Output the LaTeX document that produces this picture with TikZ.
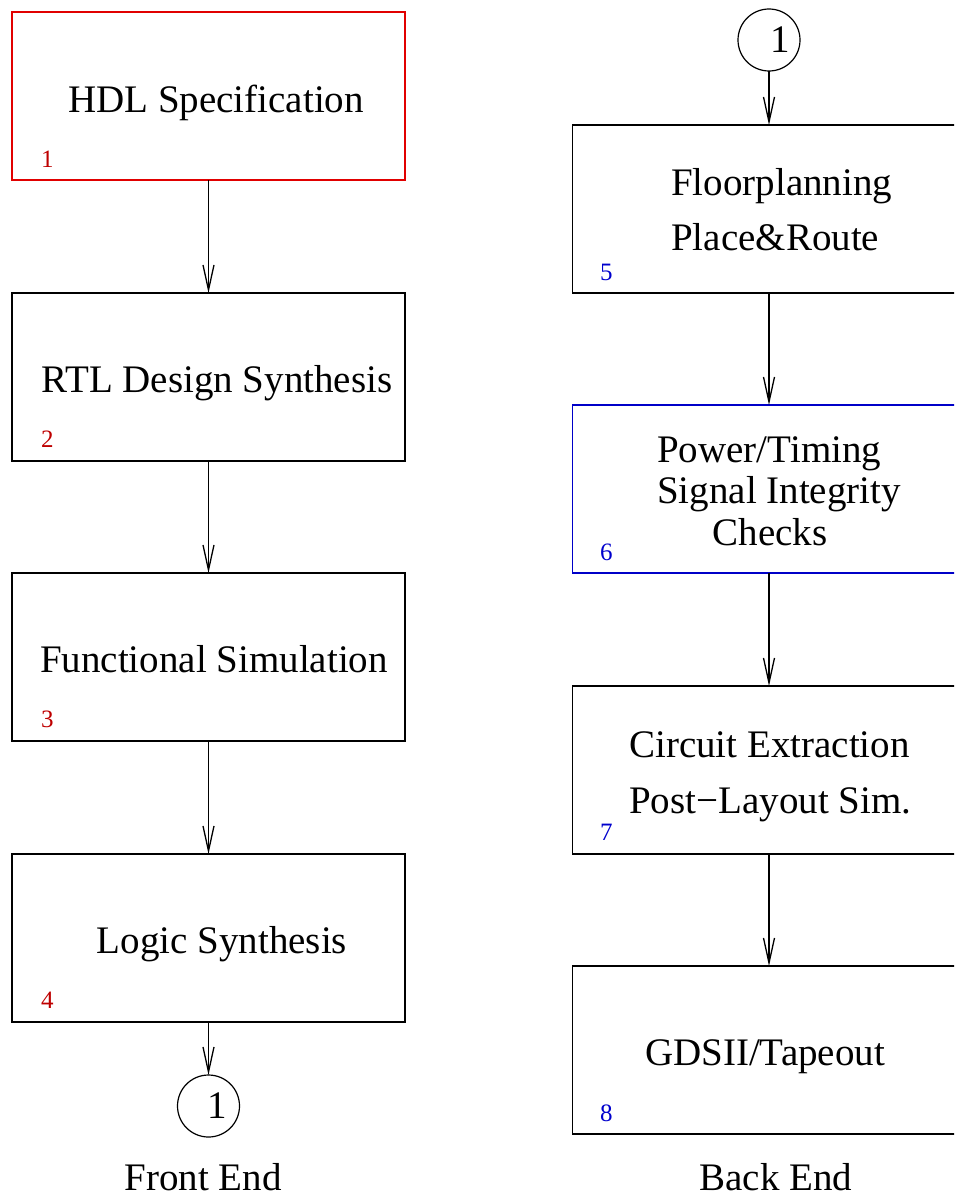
\documentclass[tikz,border=0pt]{standalone}
\usepackage{fontspec}
\setmainfont{Liberation Serif}
\usetikzlibrary{arrows.meta}
\definecolor{boxred}{RGB}{225,0,0}
\definecolor{numred}{RGB}{190,0,0}
\definecolor{boxblue}{RGB}{0,0,200}
\definecolor{numblue}{RGB}{0,0,205}
\tikzset{
  stepbox/.style={draw, line width=1.4pt, minimum width=393pt, minimum height=168pt, inner sep=0pt, outer sep=0pt},
  conn/.style={draw, circle, line width=1.2pt, minimum size=62pt, inner sep=0pt, outer sep=0pt, font=\fontsize{39}{46}\selectfont},
  arr/.style={line width=1.3pt, -{Straight Barb[length=25pt,width=11pt,line width=1.3pt]}},
  bigtxt/.style={inner sep=0pt, anchor=base, font=\fontsize{39}{46}\selectfont},
  bigtxtw/.style={inner sep=0pt, anchor=base west, font=\fontsize{39}{46}\selectfont},
  numtxt/.style={inner sep=0pt, anchor=base west, font=\fontsize{25}{30}\selectfont}
}
\begin{document}
\begin{tikzpicture}[x=1pt,y=-1pt]
\useasboundingbox (0,0) rectangle (954,1199);
\clip (0,0) rectangle (954,1199);
% left column
\node[stepbox, draw=boxred] (b1) at (208.5,96) {};
\node[stepbox] (b2) at (208.5,377) {};
\node[stepbox] (b3) at (208.5,657) {};
\node[stepbox] (b4) at (208.5,938) {};
\node[conn] (c1) at (208.5,1106) {\hspace*{18pt}1};
\node[bigtxt] (t1) at (216,112) {HDL Specification};
\node[bigtxt] (t2) at (217,392) {RTL Design Synthesis};
\node[bigtxt] (t3) at (214,672) {Functional Simulation};
\node[bigtxt] (t4) at (222,953) {Logic Synthesis};
\node[numtxt, text=numred] (n1) at (41,167) {1};
\node[numtxt, text=numred] (n2) at (41,447) {2};
\node[numtxt, text=numred] (n3) at (41,727) {3};
\node[numtxt, text=numred] (n4) at (41,1008) {4};
\node[bigtxt] (fe) at (203,1190) {Front End};
\draw[arr] (b1.south) -- (b2.north);
\draw[arr] (b2.south) -- (b3.north);
\draw[arr] (b3.south) -- (b4.north);
\draw[arr] (b4.south) -- (c1.north);
% right column
\node[conn] (c2) at (769,40) {\hspace*{22pt}1};
\node[stepbox] (b5) at (769,209) {};
\node[stepbox, draw=boxblue] (b6) at (769,489) {};
\node[stepbox] (b7) at (769,770) {};
\node[stepbox] (b8) at (769,1050) {};
\node[bigtxtw] (t5a) at (671,195) {Floorplanning};
\node[bigtxtw] (t5b) at (671,250) {Place\&Route};
\node[bigtxtw] (t6a) at (657,462) {Power/Timing};
\node[bigtxtw] (t6b) at (657,503) {Signal Integrity};
\node[bigtxt] (t6c) at (770,545) {Checks};
\node[bigtxtw] (t7a) at (629,757) {Circuit Extraction};
\node[bigtxtw] (t7b) at (629,813) {Post−Layout Sim.};
\node[bigtxt] (t8) at (765,1065) {GDSII/Tapeout};
\node[numtxt, text=numblue] (n5) at (600,280) {5};
\node[numtxt, text=numblue] (n6) at (600,560) {6};
\node[numtxt, text=numblue] (n7) at (600,840) {7};
\node[numtxt, text=numblue] (n8) at (600,1121) {8};
\node[bigtxt] (be) at (776,1190) {Back End};
\draw[arr] (c2.south) -- (b5.north);
\draw[arr] (b5.south) -- (b6.north);
\draw[arr] (b6.south) -- (b7.north);
\draw[arr] (b7.south) -- (b8.north);
\end{tikzpicture}
\end{document}
